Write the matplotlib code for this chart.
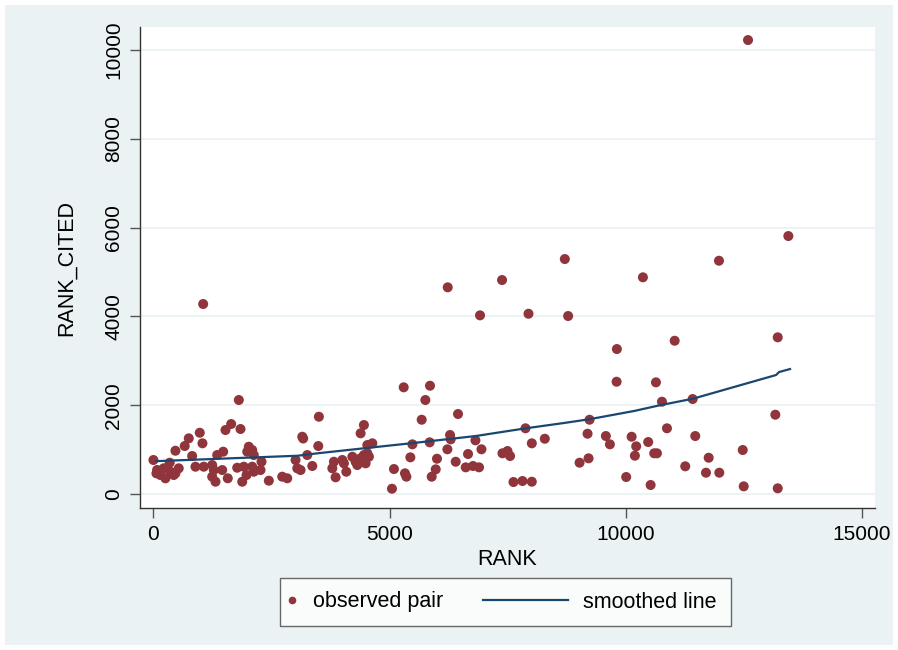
import numpy as np
import matplotlib
matplotlib.use("Agg")
import matplotlib.pyplot as plt
from matplotlib.lines import Line2D
from matplotlib.patches import Rectangle
from matplotlib.legend_handler import HandlerLine2D

plt.rcParams['font.family'] = ['Liberation Sans', 'DejaVu Sans']

# observed (RANK, RANK_CITED) pairs
rank = [0, 78, 148, 254, 218, 360, 430, 536, 466, 64, 345, 466, 663, 748, 820,
        981, 1038, 1053, 890, 1066, 1244, 1278, 1350, 1477, 1456, 1244, 1314, 1574,
        1526, 1646, 1843, 1808, 1774, 1913, 1971, 1880, 2019, 2091, 1986, 2125,
        2091, 2125, 2288, 2267, 2443, 2727, 2833, 3009, 3045, 3115, 3151, 3170,
        3257, 3363, 3490, 3503, 3821, 3787, 3857, 3999, 4033, 4083, 4211, 4280,
        4316, 4386, 4456, 4528, 4562, 4492, 4528, 4634, 4456, 4386,
        5050, 5092, 5325, 5355, 5298, 5439, 5482, 5679, 5757, 5855, 5848, 5891,
        5976, 6003, 6230, 6279, 6293, 6223, 6399, 6448, 6611, 6660, 6766, 6817,
        6893, 6914, 6944, 7380, 7389, 7495, 7550, 7622, 7813, 8010, 7876, 7940,
        8010, 8285, 8779, 9021, 9211, 9190, 9232, 8709,
        9578, 9663, 9805, 9811, 10008, 10123, 10220, 10192, 10362, 10474, 10525,
        10601, 10659, 10638, 10765, 10871, 11034, 11258, 11415, 11470, 11697,
        11754, 11979, 11972, 12475, 12496, 12587, 13165, 13216, 13216, 13441]
rank_cited = [766, 541, 428, 353, 579, 502, 428, 579, 466, 466, 705, 975, 1081, 1254, 856,
              1380, 1142, 4279, 615, 615, 653, 540, 878, 953, 540, 390, 277, 354,
              1441, 1576, 1464, 2117, 592, 615, 428, 277, 1065, 991, 953, 878,
              615, 502, 727, 540, 300, 390, 354, 766, 579, 540, 1290, 1250,
              878, 631, 1081, 1741, 727, 579, 376, 766, 691, 502, 840, 727,
              653, 804, 878, 917, 840, 691, 1103, 1142, 1554, 1367,
              119, 563, 466, 390, 2403, 826, 1119, 1673, 2117, 2439, 1164, 390,
              556, 795, 4655, 1329, 1232, 1007, 727, 1802, 601, 901, 631, 1209,
              601, 4024, 1007, 4819, 917, 968, 856, 270, 293, 277, 1480, 4060,
              1142, 1245, 4009, 705, 804, 1358, 1673, 5292,
              1306, 1119, 2529, 3265, 383, 1290, 1074, 863, 4880, 1171, 203,
              917, 917, 2515, 2079, 1480, 3452, 624, 2139, 1306, 480,
              817, 480, 5254, 991, 173, 10224, 1786, 3529, 128, 5810]

# smoothed line
smooth_x = [60, 1632, 3051, 3475, 4450, 5446, 6823, 7883, 8688, 9218, 10171,
            10743, 11421, 12438, 13180, 13244, 13477]
smooth_y = [740, 804, 862, 917, 1029, 1142, 1306, 1480, 1599, 1682, 1869,
            2004, 2146, 2455, 2680, 2747, 2815]

bg = '#EAF2F3'
maroon = '#90353B'
navy = '#1A476F'

fig = plt.figure(figsize=(8.98, 6.5), dpi=100, facecolor='white')
fig.patches.append(Rectangle((5 / 898, 5 / 650), 888 / 898, 640 / 650,
                             transform=fig.transFigure, facecolor=bg,
                             edgecolor='none', zorder=-10))

ax = fig.add_axes([140 / 898, 1 - 508 / 650, 735 / 898, 481 / 650])
ax.set_facecolor('white')

ax.scatter(rank, rank_cited, s=52, color=maroon, edgecolors='none', zorder=3)
ax.plot(smooth_x, smooth_y, color=navy, lw=1.6, zorder=4)

ax.set_xlim(-284, 15275)
ax.set_ylim(-315, 10518)
ax.set_xticks([0, 5000, 10000, 15000])
ax.set_yticks([0, 2000, 4000, 6000, 8000, 10000])
ax.grid(axis='y', color=bg, lw=1.3, zorder=0)
ax.grid(axis='x', visible=False)

for side in ['top', 'right']:
    ax.spines[side].set_visible(False)
for side in ['left', 'bottom']:
    ax.spines[side].set_color('#333333')
    ax.spines[side].set_linewidth(1.0)

ax.tick_params(axis='both', direction='out', length=7, width=1.0,
               color='#555555', labelsize=15, pad=5)
plt.setp(ax.get_yticklabels(), rotation=90, va='center')

ax.set_xlabel('RANK', fontsize=15.5, labelpad=4)
ax.set_ylabel('RANK_CITED', fontsize=15.5, labelpad=20)


class ShiftedHandle(HandlerLine2D):
    """Handle moved left by `extra` (in font sizes); a line can also be
    lengthened leftwards and stopped `gap` short of its label."""
    def __init__(self, extra, grow=True, gap=0.0, **kw):
        super().__init__(**kw)
        self.extra = extra
        self.grow = grow
        self.gap = gap

    def create_artists(self, legend, orig_handle, xdescent, ydescent,
                       width, height, fontsize, trans):
        e = self.extra * fontsize
        w = width + e - self.gap * fontsize if self.grow else width
        return super().create_artists(legend, orig_handle, xdescent + e,
                                      ydescent, w, height, fontsize, trans)


h_pts = Line2D([], [], marker='o', ls='none', color=maroon, markersize=5.5,
               markeredgewidth=0)
h_line = Line2D([], [], color=navy, lw=1.6)
leg = fig.legend([h_pts, h_line], ['observed pair', 'smoothed line'],
                 loc='center left', bbox_to_anchor=(280 / 898, 1 - 602 / 650),
                 ncol=2, fontsize=15.5, handlelength=0.7, handletextpad=0.19,
                 columnspacing=5.6, borderpad=0.65, borderaxespad=0,
                 frameon=True, fancybox=False, edgecolor='#444444',
                 handler_map={h_pts: ShiftedHandle(0.44, grow=False),
                              h_line: ShiftedHandle(3.75, gap=0.5)})
leg.get_frame().set_linewidth(1.0)
leg.get_frame().set_facecolor('white')

fig.savefig('out.png', dpi=100, facecolor='white')
